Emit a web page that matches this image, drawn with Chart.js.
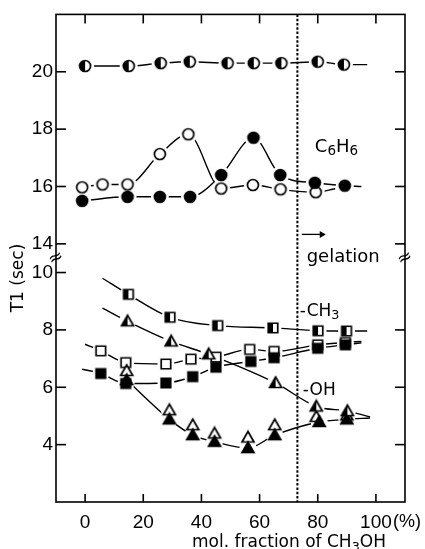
<!DOCTYPE html>
<html>
<head>
<meta charset="utf-8">
<script src="https://cdn.jsdelivr.net/npm/chart.js@4.4.0/dist/chart.umd.min.js"></script>
<style>
  body { margin: 0; background: #fff; }
  canvas { display: block; }
</style>
</head>
<body>
<canvas id="chart" width="425" height="549"></canvas>
<script>
// axis ticks
const xTicks = [0, 20, 40, 60, 80, 100];
const yLowTicks = [4, 6, 8, 10];
const yHighTicks = [14, 16, 18, 20];
const yLowRightTicks = [4, 6, 8];
const gelationAt = 73;

// upper panel (T1 of C6H6)
const xHalfCircle = [0, 15, 26, 36, 49, 58, 67.5, 80, 89];
const yHalfCircle = [20.2, 20.2, 20.3, 20.35, 20.3, 20.3, 20.3, 20.35, 20.25];
const xOpenCircle = [-1, 6, 14.6, 25.7, 35.5, 46.8, 57.7, 67.2, 79.3];
const yOpenCircle = [15.97, 16.07, 16.07, 17.13, 17.82, 15.93, 16.05, 15.9, 15.8];
const xFilledCircle = [-1, 14.6, 25.7, 36.1, 46.8, 57.9, 67.1, 79, 89.3];
const yFilledCircle = [15.5, 15.64, 15.64, 15.64, 16.4, 17.7, 16.4, 16.13, 16.03];

// lower panel (CH3 and OH of methanol)
const xHalfSquare = [14.9, 29.2, 45.6, 64.6, 80.1, 89.9];
const yHalfSquare = [9.24, 8.44, 8.15, 8.07, 7.97, 7.96];
const xHalfTri = [14.6, 29.6, 42.5, 65.5, 79.5, 90.2];
const yHalfTri = [8.3, 7.6, 7.15, 6.15, 5.33, 5.17];
const xOpenSquare = [5.4, 14, 27.8, 36.4, 45, 56.6, 65, 80, 89.5];
const yOpenSquare = [7.27, 6.86, 6.81, 6.98, 7.05, 7.32, 7.25, 7.48, 7.56];
const xFilledSquare = [5.4, 14, 27.8, 37, 45, 57, 65, 80, 89.5];
const yFilledSquare = [6.48, 6.13, 6.15, 6.37, 6.7, 6.9, 7.03, 7.36, 7.48];
const xOpenTri = [14.3, 29, 37, 44.5, 56, 65.2, 79.5, 90];
const yOpenTri = [6.57, 5.2, 4.68, 4.39, 4.25, 4.68, 4.97, 5.02];
const xFilledTri = [14.3, 29, 37, 44.5, 56, 65.2, 80.5, 90];
const yFilledTri = [6.25, 4.88, 4.33, 4.1, 3.88, 4.33, 4.79, 4.88];

// where the hand drawn curves start / stop away from a marker
const halfCircleCurve = [null, [97, 20.25]];
const openCircleCurve = [null, [86, 15.92]];
const filledCircleCurve = [null, [95, 16.0]];
const halfSquareCurve = [[6, 9.8], [97, 7.96]];
const halfTriCurve = [[6, 8.76], [98, 4.97]];
const openSquareCurve = [[0, 7.5], [95, 7.6]];
const filledSquareCurve = [[-1, 6.63], [95, 7.55]];
const filledTriCurve = [null, [98, 4.93]];

function makeMarker(shape, fill) {
  const w = shape === 'triangle' ? 12 : shape === 'square' ? 9.5 : 11;
  const size = 16;
  const c = document.createElement('canvas');
  c.width = size; c.height = size;
  const g = c.getContext('2d');
  const m = size / 2, r = w / 2;
  g.beginPath();
  if (shape === 'circle') g.arc(m, m, r, 0, Math.PI * 2);
  else if (shape === 'square') g.rect(m - r, m - r, w, w);
  else { g.moveTo(m, m - 6); g.lineTo(m + r, m + 4.5); g.lineTo(m - r, m + 4.5); g.closePath(); }
  g.fillStyle = fill === 'filled' ? '#000' : '#fff';
  g.fill();
  if (fill === 'half') {
    g.save();
    g.clip();
    g.fillStyle = '#000';
    g.fillRect(0, 0, m, size);
    g.restore();
  }
  g.lineWidth = 1.7;
  g.strokeStyle = '#000';
  g.stroke();
  return c;
}

const datasets = [];
let k = 0;
function addSeries(xs, ys, axis, marker, curve, halo) {
  const pts = xs.map((x, i) => ({ x, y: ys[i] }));
  if (curve) {
    const line = pts.slice();
    if (curve[0]) line.unshift({ x: curve[0][0], y: curve[0][1] });
    if (curve[1]) line.push({ x: curve[1][0], y: curve[1][1] });
    datasets.push({
      data: line, yAxisID: axis, showLine: true, borderColor: '#000', borderWidth: 1.4,
      pointRadius: 0, cubicInterpolationMode: 'monotone', order: 300
    });
  }
  datasets.push({
    data: pts, yAxisID: axis, showLine: false, pointStyle: 'circle', pointRadius: halo,
    pointBackgroundColor: '#fff', pointBorderColor: '#fff', pointBorderWidth: 0, order: 200
  });
  datasets.push({
    data: pts, yAxisID: axis, showLine: false, pointStyle: marker, pointRadius: 6, order: 100 - k
  });
  k++;
}

addSeries(xHalfCircle, yHalfCircle, 'yHigh', makeMarker('circle', 'half'), halfCircleCurve, 9);
addSeries(xOpenCircle, yOpenCircle, 'yHigh', makeMarker('circle', 'open'), openCircleCurve, 9);
addSeries(xFilledCircle, yFilledCircle, 'yHigh', makeMarker('circle', 'filled'), filledCircleCurve, 9);
addSeries(xHalfSquare, yHalfSquare, 'yLow', makeMarker('square', 'half'), halfSquareCurve, 8.5);
addSeries(xOpenSquare, yOpenSquare, 'yLow', makeMarker('square', 'open'), openSquareCurve, 8.5);
addSeries(xFilledSquare, yFilledSquare, 'yLow', makeMarker('square', 'filled'), filledSquareCurve, 8.5);
addSeries(xOpenTri, yOpenTri, 'yLow', makeMarker('triangle', 'open'), null, 8.5);
addSeries(xFilledTri, yFilledTri, 'yLow', makeMarker('triangle', 'filled'), filledTriCurve, 8.5);
addSeries(xHalfTri, yHalfTri, 'yLow', makeMarker('triangle', 'half'), halfTriCurve, 8.5);

const textFont = '"DejaVu Sans", sans-serif';

function drawRich(ctx, parts, x, y, size) {
  ctx.textAlign = 'left';
  ctx.textBaseline = 'alphabetic';
  parts.forEach(([t, sub]) => {
    const s = sub ? size * 0.75 : size;
    ctx.font = s + 'px ' + textFont;
    ctx.fillText(t, x, sub ? y + size * 0.22 : y);
    x += ctx.measureText(t).width;
  });
}

const framePlugin = {
  id: 'frame',
  afterDatasetsDraw(chart) {
    const { ctx, chartArea: a, scales } = chart;
    const gx = scales.x.getPixelForValue(gelationAt);
    ctx.save();
    ctx.strokeStyle = '#000';
    ctx.lineWidth = 2;
    ctx.setLineDash([2.5, 1.8]);
    ctx.beginPath();
    ctx.moveTo(gx, a.top);
    ctx.lineTo(gx, a.bottom);
    ctx.stroke();
    ctx.restore();
  },
  afterDraw(chart) {
    const { ctx, chartArea: a, scales } = chart;
    const { x, yLow, yHigh } = scales;
    ctx.save();
    ctx.strokeStyle = '#000';
    ctx.fillStyle = '#000';
    ctx.lineWidth = 1.6;
    ctx.strokeRect(a.left, a.top, a.right - a.left, a.bottom - a.top);
    const seg = (x1, y1, x2, y2) => { ctx.beginPath(); ctx.moveTo(x1, y1); ctx.lineTo(x2, y2); ctx.stroke(); };
    xTicks.forEach(v => {
      const px = x.getPixelForValue(v);
      seg(px, a.top, px, a.top + 9);
      seg(px, a.bottom, px, a.bottom - 8);
    });
    yLowTicks.forEach(v => { const py = yLow.getPixelForValue(v); seg(a.left, py, a.left + 10, py); });
    yHighTicks.forEach(v => {
      const py = yHigh.getPixelForValue(v);
      seg(a.left, py, a.left + 10, py);
      seg(a.right, py, a.right - 10, py);
    });
    yLowRightTicks.forEach(v => { const py = yLow.getPixelForValue(v); seg(a.right, py, a.right - 10, py); });

    // axis break marks
    const by = yLow.top;
    [a.left, a.right].forEach(bx => {
      ctx.save();
      ctx.translate(bx, by);
      ctx.rotate(-0.45);
      ctx.font = '18px ' + textFont;
      ctx.textAlign = 'center';
      ctx.textBaseline = 'middle';
      ctx.fillText('\u2248', 0, 0);
      ctx.restore();
    });

    // "(%)" after the last x tick label
    ctx.font = '18px "Liberation Sans", sans-serif';
    ctx.textAlign = 'left';
    ctx.textBaseline = 'alphabetic';
    ctx.fillText('(%)', x.getPixelForValue(100) + 17, 527);

    // annotations
    drawRich(ctx, [['C', false], ['6', true], ['H', false], ['6', true]],
      x.getPixelForValue(79), yHigh.getPixelForValue(17.22), 18);
    const ax1 = x.getPixelForValue(74.5), ax2 = x.getPixelForValue(82.4), ay = yHigh.getPixelForValue(14.33);
    ctx.lineWidth = 1.3;
    seg(ax1, ay, ax2, ay);
    ctx.beginPath();
    ctx.moveTo(ax2 + 1, ay); ctx.lineTo(ax2 - 5, ay - 3.5); ctx.lineTo(ax2 - 5, ay + 3.5); ctx.closePath();
    ctx.fill();
    drawRich(ctx, [['gelation', false]], x.getPixelForValue(76.2), yLow.getPixelForValue(10.38), 18);
    drawRich(ctx, [['-', false]], x.getPixelForValue(73.8), yLow.getPixelForValue(8.5), 17);
    drawRich(ctx, [['CH', false], ['3', true]], x.getPixelForValue(76.2), yLow.getPixelForValue(8.5), 17);
    drawRich(ctx, [['-', false]], x.getPixelForValue(74.8), yLow.getPixelForValue(5.72), 17);
    drawRich(ctx, [['OH', false]], x.getPixelForValue(77.2), yLow.getPixelForValue(5.72), 17);

    // axis titles
    drawRich(ctx, [['mol. fraction of CH', false], ['3', true], ['OH', false]], 192, 547, 17);
    ctx.save();
    ctx.translate(19, 278);
    ctx.rotate(-Math.PI / 2);
    ctx.font = '17px ' + textFont;
    ctx.textAlign = 'center';
    ctx.textBaseline = 'middle';
    ctx.fillText('T1 (sec)', 0, 0);
    ctx.restore();
    ctx.restore();
  }
};

const tickFont = { family: '"Liberation Sans", sans-serif', size: 19 };
const noGrid = { display: false, drawTicks: false };

new Chart(document.getElementById('chart'), {
  type: 'scatter',
  data: { datasets },
  options: {
    responsive: false,
    animation: false,
    devicePixelRatio: 1,
    layout: { padding: { top: 13, right: 20, left: 0, bottom: 0 } },
    plugins: { legend: { display: false }, tooltip: { enabled: false } },
    scales: {
      x: {
        type: 'linear', min: -10, max: 110,
        grid: noGrid, border: { display: false },
        ticks: { font: tickFont, color: '#000', padding: 9 },
        afterBuildTicks: s => { s.ticks = xTicks.map(v => ({ value: v })); },
        afterFit: s => { s.height = 47; }
      },
      yLow: {
        type: 'linear', position: 'left', stack: 'y', stackWeight: 1, weight: 1,
        min: 2, max: 10.5,
        grid: noGrid, border: { display: false },
        ticks: { font: tickFont, color: '#000', padding: 3 },
        afterBuildTicks: s => { s.ticks = yLowTicks.map(v => ({ value: v })); },
        afterFit: s => { s.width = 56; }
      },
      yHigh: {
        type: 'linear', position: 'left', stack: 'y', stackWeight: 1, weight: 2,
        min: 13.5, max: 22,
        grid: noGrid, border: { display: false },
        ticks: { font: tickFont, color: '#000', padding: 3 },
        afterBuildTicks: s => { s.ticks = yHighTicks.map(v => ({ value: v })); },
        afterFit: s => { s.width = 56; }
      }
    }
  },
  plugins: [framePlugin]
});
</script>
</body>
</html>
